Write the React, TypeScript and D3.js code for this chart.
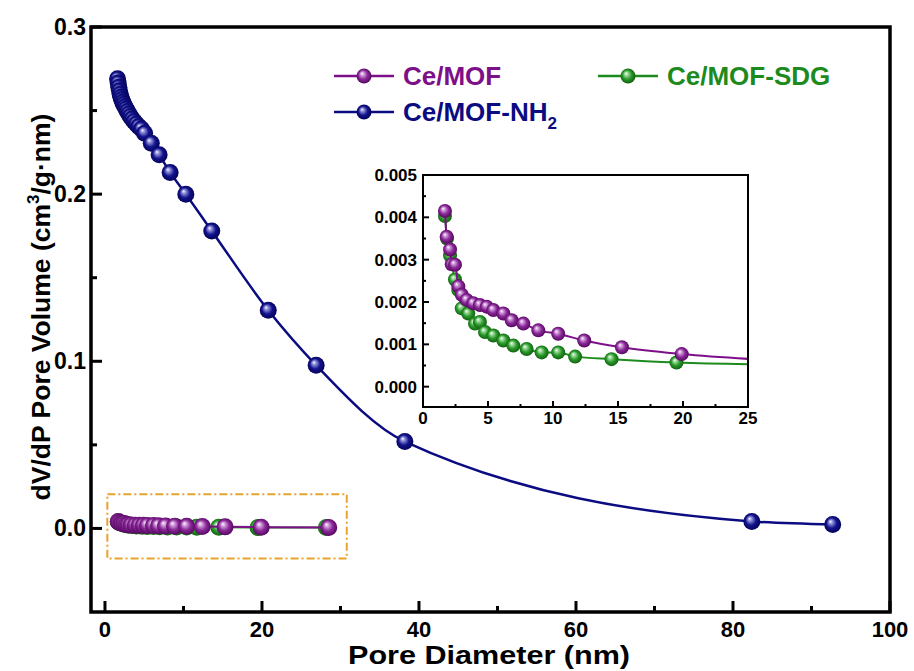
import React from 'react';
import * as d3 from 'd3';

// Ce/MOF-NH2 (main plot)
const nh2X = [1.6, 1.68, 1.76, 1.85, 1.94, 2.04, 2.15, 2.27, 2.4, 2.55, 2.7, 2.87, 3.05, 3.25, 3.47, 3.72, 4.0, 4.3, 4.65, 5.05, 5.9, 6.9, 8.3, 10.3, 13.6, 20.8, 26.9, 38.2, 82.4, 92.7];
const nh2Y = [0.269, 0.2665, 0.264, 0.2618, 0.2598, 0.258, 0.2565, 0.255, 0.2537, 0.2523, 0.251, 0.2495, 0.248, 0.2465, 0.245, 0.2435, 0.242, 0.2405, 0.239, 0.2365, 0.2305, 0.2235, 0.213, 0.2, 0.178, 0.1305, 0.0976, 0.052, 0.0042, 0.0024];

// Ce/MOF
const mofX = [1.69, 1.82, 2.08, 2.21, 2.46, 2.72, 2.98, 3.36, 3.87, 4.38, 4.9, 5.41, 6.18, 6.82, 7.72, 8.87, 10.4, 12.4, 15.3, 19.9, 28.5];
const mofY = [0.00415, 0.00354, 0.00324, 0.00289, 0.00288, 0.00237, 0.00217, 0.00205, 0.00197, 0.00193, 0.00189, 0.00181, 0.00173, 0.00157, 0.00149, 0.00133, 0.00125, 0.00109, 0.00093, 0.00077, 0.0006];

// Ce/MOF-SDG
const sdgX = [1.69, 1.85, 2.08, 2.46, 2.72, 2.98, 3.48, 4.0, 4.38, 4.77, 5.41, 6.18, 6.95, 7.97, 9.13, 10.4, 11.7, 14.5, 19.5, 28.2];
const sdgY = [0.00403, 0.0035, 0.0031, 0.00253, 0.00228, 0.00185, 0.00173, 0.00149, 0.00153, 0.00129, 0.00121, 0.00109, 0.00097, 0.00089, 0.00081, 0.00081, 0.00071, 0.00065, 0.00057, 0.00052];

const mainXTicks = [0, 20, 40, 60, 80, 100];
const mainXMinor = [10, 30, 50, 70, 90];
const mainYTicks = [0, 0.1, 0.2, 0.3];
const mainYMinor = [0.05, 0.15, 0.25];
const insetXTicks = [0, 5, 10, 15, 20, 25];
const insetXMinor = [2.5, 7.5, 12.5, 17.5, 22.5];
const insetYTicks = [0, 0.001, 0.002, 0.003, 0.004, 0.005];
const insetYMinor = [0.0005, 0.0015, 0.0025, 0.0035, 0.0045];

// zoom box drawn around the low curves, in data units
const zoomBox = { x0: 0.3, x1: 30.8, y0: -0.018, y1: 0.0205 };

const PURPLE = '#7d0f89';
const NAVY = '#0b0b82';
const GREEN = '#1d8a1d';
const FONT = '"Liberation Sans", Arial, Helvetica, sans-serif';

const zip = (xs: number[], ys: number[]) => xs.map((v, i) => [v, ys[i]] as [number, number]);

const Sphere = ({ cx, cy, r, id }: { cx: number; cy: number; r: number; id: string }) => (
  <circle cx={cx} cy={cy} r={r} fill={`url(#${id})`} />
);

const Grad = ({ id, base, light, dark }: { id: string; base: string; light: string; dark: string }) => (
  <radialGradient id={id} cx="0.5" cy="0.5" r="0.55" fx="0.36" fy="0.32">
    <stop offset="0%" stopColor="#ffffff" />
    <stop offset="18%" stopColor={light} />
    <stop offset="55%" stopColor={base} />
    <stop offset="100%" stopColor={dark} />
  </radialGradient>
);

export default function App() {
  const x = d3.scaleLinear().domain([-1.78, 100]).range([91, 890]);
  const y = d3.scaleLinear().domain([-0.05, 0.3]).range([612, 27]);
  const ix = d3.scaleLinear().domain([0, 25]).range([423, 748]);
  const iy = d3.scaleLinear().domain([-0.00048, 0.005]).range([407, 175]);

  const nh2 = zip(nh2X, nh2Y);
  const mof = zip(mofX, mofY);
  const sdg = zip(sdgX, sdgY);

  const mainLine = d3.line<[number, number]>().x(d => x(d[0])).y(d => y(d[1])).curve(d3.curveMonotoneX);
  const insetLine = d3.line<[number, number]>().x(d => ix(d[0])).y(d => iy(d[1])).curve(d3.curveMonotoneX);

  const [mx0, mx1] = x.range();
  const [my0, my1] = y.range();
  const [ix0, ix1] = ix.range();
  const [iy0, iy1] = iy.range();

  const legend = [
    { label: 'Ce/MOF', color: PURPLE, grad: 'g-mof', lx: 334, ty: 76 },
    { label: 'Ce/MOF-SDG', color: GREEN, grad: 'g-sdg', lx: 598, ty: 76 },
    { label: 'Ce/MOF-NH', sub: '2', color: NAVY, grad: 'g-nh2', lx: 334, ty: 112 },
  ];

  return (
    <svg width={914} height={671} style={{ position: 'absolute', left: 0, top: 0, background: '#fff' }} fontFamily={FONT} fontWeight="bold">
      <defs>
        <Grad id="g-mof" base="#8a2a98" light="#d9a8e2" dark="#4d0058" />
        <Grad id="g-sdg" base="#2a9a2a" light="#a8e0a8" dark="#0c560c" />
        <Grad id="g-nh2" base="#13138e" light="#9a9ae0" dark="#00004f" />
        <clipPath id="clip-main"><rect x={mx0} y={my1} width={mx1 - mx0} height={my0 - my1} /></clipPath>
        <clipPath id="clip-inset"><rect x={ix0} y={iy1} width={ix1 - ix0} height={iy0 - iy1} /></clipPath>
      </defs>

      {/* main plot data */}
      <g clipPath="url(#clip-main)">
        <path d={mainLine(sdg) || ''} fill="none" stroke={GREEN} strokeWidth={2} />
        {sdg.map((d, i) => <Sphere key={'ms' + i} cx={x(d[0])} cy={y(d[1])} r={8.5} id="g-sdg" />)}
        <path d={mainLine(mof) || ''} fill="none" stroke={PURPLE} strokeWidth={2} />
        {mof.map((d, i) => <Sphere key={'mm' + i} cx={x(d[0])} cy={y(d[1])} r={8.5} id="g-mof" />)}
        <path d={mainLine(nh2) || ''} fill="none" stroke={NAVY} strokeWidth={2.5} />
        {nh2.map((d, i) => <Sphere key={'mn' + i} cx={x(d[0])} cy={y(d[1])} r={8.5} id="g-nh2" />)}
      </g>

      <rect x={x(zoomBox.x0)} y={y(zoomBox.y1)} width={x(zoomBox.x1) - x(zoomBox.x0)} height={y(zoomBox.y0) - y(zoomBox.y1)}
        fill="none" stroke="#e9a22c" strokeWidth={2} strokeDasharray="8,3,2,3" />

      {/* main frame & ticks */}
      <rect x={mx0} y={my1} width={mx1 - mx0} height={my0 - my1} fill="none" stroke="#000" strokeWidth={3.5} />
      {mainXTicks.map(t => (
        <g key={'xt' + t}>
          <line x1={x(t)} x2={x(t)} y1={my0} y2={my0 - 11} stroke="#000" strokeWidth={3} />
          <text x={x(t)} y={637} textAnchor="middle" fontSize={22}>{t}</text>
        </g>
      ))}
      {mainXMinor.map(t => <line key={'xm' + t} x1={x(t)} x2={x(t)} y1={my0} y2={my0 - 6} stroke="#000" strokeWidth={3} />)}
      {mainYTicks.map(t => (
        <g key={'yt' + t}>
          <line x1={mx0} x2={mx0 + 11} y1={y(t)} y2={y(t)} stroke="#000" strokeWidth={3} />
          <text x={86} y={y(t) + 8} textAnchor="end" fontSize={23}>{d3.format('.1f')(t)}</text>
        </g>
      ))}
      {mainYMinor.map(t => <line key={'ym' + t} x1={mx0} x2={mx0 + 6} y1={y(t)} y2={y(t)} stroke="#000" strokeWidth={3} />)}

      <text x={489} y={664} textAnchor="middle" fontSize={26} textLength={282} lengthAdjust="spacingAndGlyphs">Pore Diameter (nm)</text>
      <text transform="translate(50,307) rotate(-90)" textAnchor="middle" fontSize={26.5}>
        dV/dP Pore Volume (cm<tspan fontSize={17} dy={-11}>3</tspan><tspan dy={11}>/g·nm)</tspan>
      </text>

      {/* legend */}
      {legend.map(l => (
        <g key={l.label}>
          <line x1={l.lx} x2={l.lx + 60} y1={l.ty} y2={l.ty} stroke={l.color} strokeWidth={2.5} />
          <Sphere cx={l.lx + 30} cy={l.ty} r={7.5} id={l.grad} />
          <text x={l.lx + 69} y={l.ty + 9} fontSize={26} fill={l.color}>
            {l.label}{l.sub ? <tspan fontSize={17} dy={8}>{l.sub}</tspan> : null}
          </text>
        </g>
      ))}

      {/* inset */}
      <rect x={ix0} y={iy1} width={ix1 - ix0} height={iy0 - iy1} fill="#fff" />
      <g clipPath="url(#clip-inset)">
        <path d={insetLine(sdg) || ''} fill="none" stroke={GREEN} strokeWidth={2} />
        {sdg.map((d, i) => <Sphere key={'is' + i} cx={ix(d[0])} cy={iy(d[1])} r={7} id="g-sdg" />)}
        <path d={insetLine(mof) || ''} fill="none" stroke={PURPLE} strokeWidth={2} />
        {mof.map((d, i) => <Sphere key={'im' + i} cx={ix(d[0])} cy={iy(d[1])} r={7} id="g-mof" />)}
      </g>
      <rect x={ix0} y={iy1} width={ix1 - ix0} height={iy0 - iy1} fill="none" stroke="#000" strokeWidth={2} />
      {insetXTicks.map(t => (
        <g key={'ixt' + t}>
          <line x1={ix(t)} x2={ix(t)} y1={iy0} y2={iy0 - 6} stroke="#000" strokeWidth={2} />
          <text x={ix(t)} y={424} textAnchor="middle" fontSize={17}>{t}</text>
        </g>
      ))}
      {insetXMinor.map(t => <line key={'ixm' + t} x1={ix(t)} x2={ix(t)} y1={iy0} y2={iy0 - 3} stroke="#000" strokeWidth={2} />)}
      {insetYTicks.map(t => (
        <g key={'iyt' + t}>
          <line x1={ix0} x2={ix0 + 6} y1={iy(t)} y2={iy(t)} stroke="#000" strokeWidth={2} />
          <text x={417} y={iy(t) + 6} textAnchor="end" fontSize={17}>{d3.format('.3f')(t)}</text>
        </g>
      ))}
      {insetYMinor.map(t => <line key={'iym' + t} x1={ix0} x2={ix0 + 3} y1={iy(t)} y2={iy(t)} stroke="#000" strokeWidth={2} />)}
    </svg>
  );
}
